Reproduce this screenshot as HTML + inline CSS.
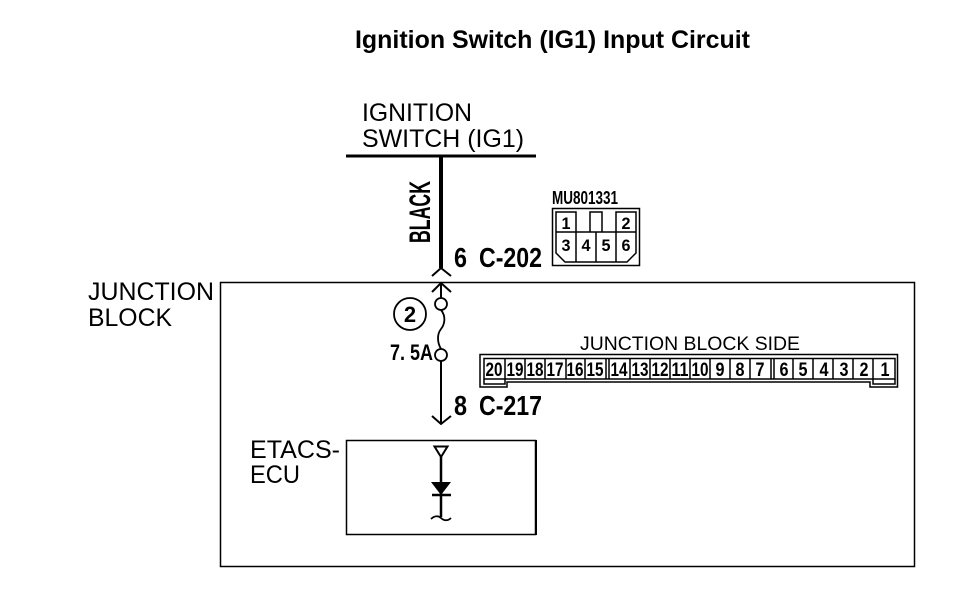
<!DOCTYPE html>
<html>
<head>
<meta charset="utf-8">
<style>
html,body{margin:0;padding:0;background:#fff;}
svg{display:block;}
text{font-family:"Liberation Sans",sans-serif;fill:#000;}
.b{font-weight:bold;}
.pin{font-weight:bold;font-size:17px;text-anchor:middle;}
.jp{font-weight:bold;font-size:19px;text-anchor:middle;}
</style>
</head>
<body>
<svg width="960" height="598" viewBox="0 0 960 598" xmlns="http://www.w3.org/2000/svg">
<rect width="960" height="598" fill="#fff"/>

<!-- Labels -->
<text class="b" x="355" y="48" font-size="25" textLength="395" lengthAdjust="spacingAndGlyphs">Ignition Switch (IG1) Input Circuit</text>
<text x="362" y="121" font-size="25" textLength="110" lengthAdjust="spacingAndGlyphs">IGNITION</text>
<text x="362" y="147" font-size="25" textLength="162" lengthAdjust="spacingAndGlyphs">SWITCH (IG1)</text>
<text class="b" transform="translate(430,243) rotate(-90)" font-size="30" textLength="62" lengthAdjust="spacingAndGlyphs">BLACK</text>
<text class="b" x="454" y="267" font-size="28" textLength="13" lengthAdjust="spacingAndGlyphs">6</text>
<text class="b" x="479" y="267" font-size="28" textLength="63" lengthAdjust="spacingAndGlyphs">C-202</text>
<text class="b" x="454" y="415" font-size="28" textLength="13" lengthAdjust="spacingAndGlyphs">8</text>
<text class="b" x="479" y="415" font-size="28" textLength="63" lengthAdjust="spacingAndGlyphs">C-217</text>
<text x="88" y="300" font-size="25" textLength="126" lengthAdjust="spacingAndGlyphs">JUNCTION</text>
<text x="88" y="326" font-size="25" textLength="84" lengthAdjust="spacingAndGlyphs">BLOCK</text>
<text x="250" y="458" font-size="25" textLength="90" lengthAdjust="spacingAndGlyphs">ETACS-</text>
<text x="250" y="483" font-size="25" textLength="50" lengthAdjust="spacingAndGlyphs">ECU</text>
<text class="b" x="390" y="360" font-size="22" textLength="43" lengthAdjust="spacingAndGlyphs">7. 5A</text>
<text class="b" x="410" y="322" font-size="22" text-anchor="middle">2</text>
<text x="580" y="350" font-size="19" textLength="220" lengthAdjust="spacingAndGlyphs">JUNCTION BLOCK SIDE</text>
<text class="b" x="552" y="204" font-size="18" textLength="66" lengthAdjust="spacingAndGlyphs">MU801331</text>

<!-- Main wire -->
<g fill="none" stroke="#000">
<path d="M346 156H536" stroke-width="3"/>
<path d="M441 156V268" stroke-width="4"/>
<path d="M432 276L441 268L451 276" stroke-width="2"/>
<rect x="220.500" y="282.500" width="694" height="284" stroke-width="1.500"/>
<path d="M441 283V298" stroke-width="2"/>
<path d="M432 292L441 283L451 292" stroke-width="2"/>
<circle cx="441" cy="304" r="6" stroke-width="1.800"/>
<circle cx="441" cy="355" r="6" stroke-width="1.800"/>
<circle cx="410" cy="314" r="16" stroke-width="1.800"/>
<path d="M441 310C446 316 445 324 441 329C437 334 437 342 441 349" stroke-width="1.800"/>
<path d="M441 361V423" stroke-width="2"/>
<path d="M432 416L441 424L451 416" stroke-width="2"/>
<rect x="346.500" y="440.500" width="189" height="94" stroke-width="1.500"/>
<path d="M536 440V535" stroke-width="2"/>
<path d="M434.500 446.500H447.500L441 457Z" stroke-width="2"/>
<path d="M441 457V517" stroke-width="2.500"/>
<path d="M432 495H451" stroke-width="2.500"/>
<path d="M431 519C435 515 439 516 441 518C444 521 448 521 451 518" stroke-width="1.800"/>
</g>
<path d="M431 482H451L441 495Z" fill="#000"/>

<!-- Connector MU801331 -->
<g fill="none" stroke="#000" stroke-width="1.500">
<rect x="552.500" y="208.500" width="87" height="57"/>
<path d="M556 232V253L565 262H627L636 253V232"/>
<path d="M556 232V212H576V232M616 232V212H636V232M590 232V212H602V232"/>
<path d="M556 232H636"/>
<path d="M576 232V262M596 232V262M616 232V262"/>
</g>
<text class="pin" x="566" y="229" textLength="9" lengthAdjust="spacingAndGlyphs">1</text>
<text class="pin" x="626" y="229" textLength="9" lengthAdjust="spacingAndGlyphs">2</text>
<text class="pin" x="566" y="251" textLength="9" lengthAdjust="spacingAndGlyphs">3</text>
<text class="pin" x="586" y="251" textLength="9" lengthAdjust="spacingAndGlyphs">4</text>
<text class="pin" x="606" y="251" textLength="9" lengthAdjust="spacingAndGlyphs">5</text>
<text class="pin" x="626" y="251" textLength="9" lengthAdjust="spacingAndGlyphs">6</text>

<!-- Junction block connector -->
<g fill="none" stroke="#000" stroke-width="1.500">
<path d="M480 354.500H897.500V387H870V382H507V387H480Z"/>
<path d="M484 358.500H895V379H484Z"/>
<path d="M484 379V384H505V379M873 379V384H895V379"/>
<path d="M505 358V379M525 358V379M545 358V379M566 358V379M585 358V379M606 358V379M609 358V379M630 358V379M650 358V379M670 358V379M690 358V379M710 358V379M730 358V379M750 358V379M771 358V379M774 358V379M793 358V379M813 358V379M833 358V379M853 358V379M873 358V379"/>
</g>
<g>
<text class="jp" x="494" y="376" textLength="17" lengthAdjust="spacingAndGlyphs">20</text>
<text class="jp" x="515" y="376" textLength="17" lengthAdjust="spacingAndGlyphs">19</text>
<text class="jp" x="535" y="376" textLength="17" lengthAdjust="spacingAndGlyphs">18</text>
<text class="jp" x="555" y="376" textLength="17" lengthAdjust="spacingAndGlyphs">17</text>
<text class="jp" x="575" y="376" textLength="17" lengthAdjust="spacingAndGlyphs">16</text>
<text class="jp" x="595" y="376" textLength="17" lengthAdjust="spacingAndGlyphs">15</text>
<text class="jp" x="619" y="376" textLength="17" lengthAdjust="spacingAndGlyphs">14</text>
<text class="jp" x="640" y="376" textLength="17" lengthAdjust="spacingAndGlyphs">13</text>
<text class="jp" x="660" y="376" textLength="17" lengthAdjust="spacingAndGlyphs">12</text>
<text class="jp" x="680" y="376" textLength="17" lengthAdjust="spacingAndGlyphs">11</text>
<text class="jp" x="700" y="376" textLength="17" lengthAdjust="spacingAndGlyphs">10</text>
<text class="jp" x="720" y="376" textLength="9" lengthAdjust="spacingAndGlyphs">9</text>
<text class="jp" x="740" y="376" textLength="9" lengthAdjust="spacingAndGlyphs">8</text>
<text class="jp" x="760" y="376" textLength="9" lengthAdjust="spacingAndGlyphs">7</text>
<text class="jp" x="784" y="376" textLength="9" lengthAdjust="spacingAndGlyphs">6</text>
<text class="jp" x="803" y="376" textLength="9" lengthAdjust="spacingAndGlyphs">5</text>
<text class="jp" x="824" y="376" textLength="9" lengthAdjust="spacingAndGlyphs">4</text>
<text class="jp" x="844" y="376" textLength="9" lengthAdjust="spacingAndGlyphs">3</text>
<text class="jp" x="864" y="376" textLength="9" lengthAdjust="spacingAndGlyphs">2</text>
<text class="jp" x="885" y="376" textLength="9" lengthAdjust="spacingAndGlyphs">1</text>
</g>
</svg>
</body>
</html>
